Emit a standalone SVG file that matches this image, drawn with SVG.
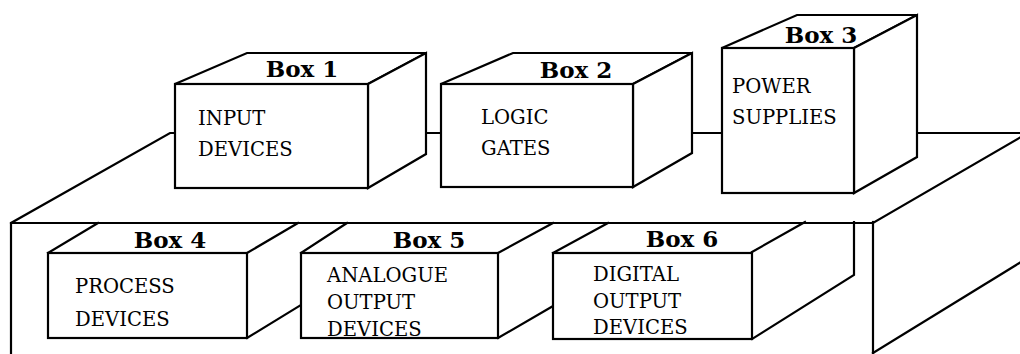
<svg xmlns="http://www.w3.org/2000/svg" width="1020" height="354" viewBox="0 0 1020 354">
<style>
.ln{fill:none;stroke:#000;stroke-width:2.2;stroke-linejoin:miter;stroke-linecap:square}
.bx{fill:#fff;stroke:#000;stroke-width:2.2;stroke-linejoin:miter}
.lbl{font-family:"DejaVu Serif","Liberation Serif",serif;font-weight:bold;font-size:23px;fill:#000;text-anchor:middle}
.txt{font-family:"DejaVu Serif","Liberation Serif",serif;font-size:19.6px;fill:#000}
</style>
<rect width="1020" height="354" fill="#fff"/>
<g id="cabinet">
<path class="ln" d="M11,354 V223 L170,133 H1021"/>
<path class="ln" d="M11,223 H873 L1021,137"/>
<path class="ln" d="M873,222 V355"/>
<path class="ln" d="M873,353 L1021,262"/>
</g>
<g id="box1">
<path class="bx" d="M175,84 L247,53 H426 L368,84 Z"/>
<path class="bx" d="M368,84 L426,53 V154 L368,188 Z"/>
<rect class="bx" x="175" y="84" width="193" height="104"/>
<text class="lbl" x="302" y="77">Box 1</text>
<text class="txt" x="198" y="125">INPUT</text>
<text class="txt" x="198" y="156">DEVICES</text>
</g>
<g id="box2">
<path class="bx" d="M441,84 L513,53 H692 L633,84 Z"/>
<path class="bx" d="M633,84 L692,53 V153 L633,187 Z"/>
<rect class="bx" x="441" y="84" width="192" height="103"/>
<text class="lbl" x="576" y="78">Box 2</text>
<text class="txt" x="481" y="124">LOGIC</text>
<text class="txt" x="481" y="155">GATES</text>
</g>
<g id="box3">
<path class="bx" d="M722,48 L797,15 H917 L854,48 Z"/>
<path class="bx" d="M854,48 L917,15 V157 L854,193 Z"/>
<rect class="bx" x="722" y="48" width="132" height="145"/>
<text class="lbl" x="821" y="43">Box 3</text>
<text class="txt" x="732" y="93">POWER</text>
<text class="txt" x="732" y="124">SUPPLIES</text>
</g>
<g id="box4">
<path class="ln" d="M48,253 L98,223 M247,253 L298,223 M247,338 L301,305"/>
<rect class="bx" x="48" y="253" width="199" height="85"/>
<text class="lbl" x="170" y="248">Box 4</text>
<text class="txt" x="75" y="293">PROCESS</text>
<text class="txt" x="75" y="326">DEVICES</text>
</g>
<g id="box5">
<path class="ln" d="M301,253 L347,223 M498,253 L553,223 M498,338 L553,306"/>
<rect class="bx" x="301" y="253" width="197" height="85"/>
<text class="lbl" x="429" y="248">Box 5</text>
<text class="txt" x="327" y="282">ANALOGUE</text>
<text class="txt" x="327" y="309">OUTPUT</text>
<text class="txt" x="327" y="336">DEVICES</text>
</g>
<g id="box6">
<path class="ln" d="M553,253 L608,223 M752,252 L805,222 M854,222 V275 L752,339"/>
<rect class="bx" x="553" y="253" width="199" height="86"/>
<text class="lbl" x="682" y="247">Box 6</text>
<text class="txt" x="593" y="281">DIGITAL</text>
<text class="txt" x="593" y="308">OUTPUT</text>
<text class="txt" x="593" y="334">DEVICES</text>
</g>
</svg>
